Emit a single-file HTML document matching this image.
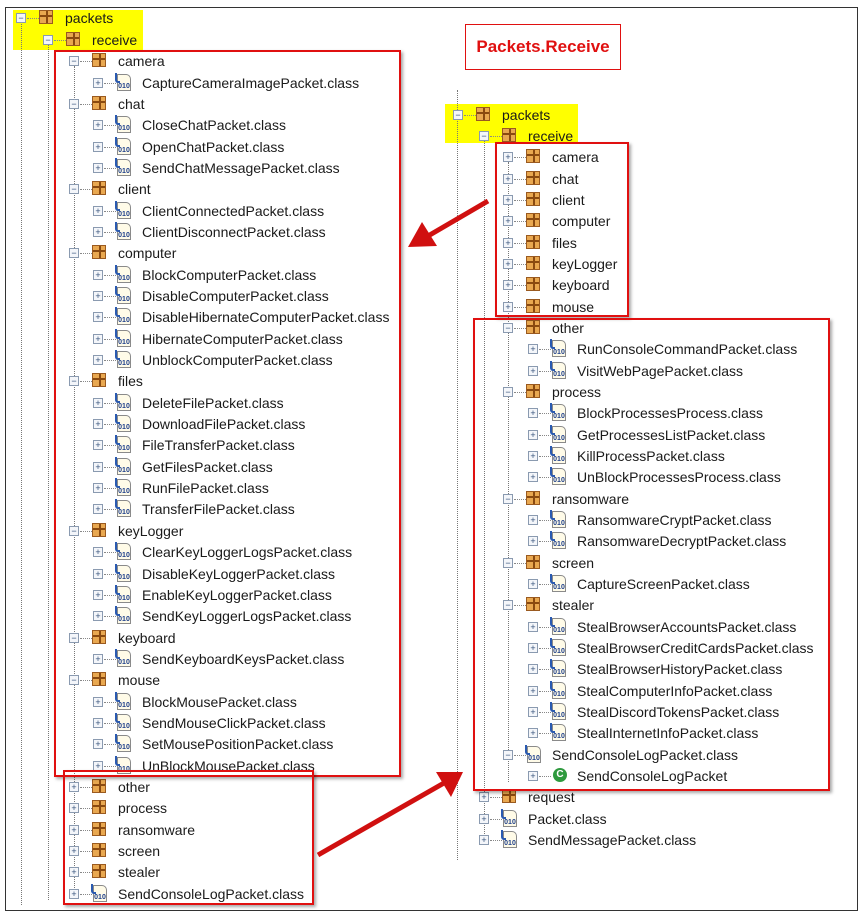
<!DOCTYPE html>
<html><head><meta charset="utf-8"><style>
body{margin:0;width:865px;height:916px;background:#fff;position:relative;overflow:hidden;font-family:"Liberation Sans",sans-serif;}
.frame{position:absolute;left:5px;top:7px;width:853px;height:904px;border:1.5px solid #333;box-sizing:border-box;}
.r{position:absolute;height:20px;font-size:14px;color:#1a1a1a;white-space:nowrap;}
.r .e{position:absolute;left:0;top:5px;width:8px;height:8px;border:1px solid #8a9ab0;background:#f4f6fa;font-size:9px;line-height:8px;text-align:center;color:#33507a;}
.r .e::after{content:"";position:absolute;left:10px;top:4px;width:12px;border-top:1px dotted #888;}
.r .pk{position:absolute;left:23px;top:2px;width:14px;height:14px;background:
linear-gradient(90deg,transparent 6px,#8a4a10 6px,#8a4a10 8px,transparent 8px),
linear-gradient(0deg,transparent 6px,#8a4a10 6px,#8a4a10 8px,transparent 8px),#e9a850;border:1px solid #9a5a20;box-sizing:border-box;}
.r .cl{position:absolute;left:24px;top:1px;width:14px;height:17px;border:1px solid #8a8a8a;border-radius:0 5px 0 0;background:#fffbe8;box-sizing:border-box;font-size:7px;font-weight:bold;color:#1d3e8a;line-height:7px;padding-top:8px;text-align:center;}
.r .cl::before{content:"";position:absolute;left:-3px;top:-2px;width:3px;height:8px;border-left:2px solid #2a5ab0;border-bottom:2px solid #2a5ab0;border-radius:0 0 0 3px;}
.r .c{position:absolute;left:25px;top:2px;width:14px;height:14px;border-radius:50%;background:#2e9a3e;color:#fff;font-size:10px;font-weight:bold;line-height:14px;text-align:center;}
.r .t{position:absolute;left:49px;top:0;line-height:20px;}
.hl{position:absolute;background:#ffff00;}
.box{position:absolute;border:2px solid #e01010;box-shadow:2px 2px 3px rgba(0,0,0,.35);}
.vd{position:absolute;border-left:1px dotted #777;}
</style></head><body>
<div class="frame"></div>
<div class="hl" style="left:13px;top:10px;width:130px;height:40px"></div>
<div class="hl" style="left:445px;top:104px;width:133px;height:39px"></div>
<div class="vd" style="left:21px;top:20px;height:885px"></div>
<div class="vd" style="left:48px;top:45px;height:855px"></div>
<div class="vd" style="left:74px;top:66px;height:830px"></div>
<div class="vd" style="left:457px;top:90px;height:770px"></div>
<div class="vd" style="left:484px;top:140px;height:700px"></div>
<div class="vd" style="left:508px;top:162px;height:620px"></div>
<div style="position:absolute;left:465px;top:24px;width:156px;height:46px;border:1.5px solid #e01010;box-sizing:border-box;color:#e01010;font-weight:bold;font-size:17px;line-height:43px;text-align:center">Packets.Receive</div>
<div style="position:absolute;left:476px;top:88px;width:140px;height:6px;overflow:hidden;font-size:12px;color:#555;line-height:0">&nbsp;</div>

<!-- LEFT TREE -->
<div class="r" style="left:16px;top:8px"><span class="e">−</span><span class="pk"></span><span class="t">packets</span></div>
<div class="r" style="left:43px;top:30px"><span class="e">−</span><span class="pk"></span><span class="t">receive</span></div>
<div class="r" style="left:69px;top:51px"><span class="e">−</span><span class="pk"></span><span class="t">camera</span></div>
<div class="r" style="left:93px;top:73px"><span class="e">+</span><span class="cl">010</span><span class="t">CaptureCameraImagePacket.class</span></div>
<div class="r" style="left:69px;top:94px"><span class="e">−</span><span class="pk"></span><span class="t">chat</span></div>
<div class="r" style="left:93px;top:115px"><span class="e">+</span><span class="cl">010</span><span class="t">CloseChatPacket.class</span></div>
<div class="r" style="left:93px;top:137px"><span class="e">+</span><span class="cl">010</span><span class="t">OpenChatPacket.class</span></div>
<div class="r" style="left:93px;top:158px"><span class="e">+</span><span class="cl">010</span><span class="t">SendChatMessagePacket.class</span></div>
<div class="r" style="left:69px;top:179px"><span class="e">−</span><span class="pk"></span><span class="t">client</span></div>
<div class="r" style="left:93px;top:201px"><span class="e">+</span><span class="cl">010</span><span class="t">ClientConnectedPacket.class</span></div>
<div class="r" style="left:93px;top:222px"><span class="e">+</span><span class="cl">010</span><span class="t">ClientDisconnectPacket.class</span></div>
<div class="r" style="left:69px;top:243px"><span class="e">−</span><span class="pk"></span><span class="t">computer</span></div>
<div class="r" style="left:93px;top:265px"><span class="e">+</span><span class="cl">010</span><span class="t">BlockComputerPacket.class</span></div>
<div class="r" style="left:93px;top:286px"><span class="e">+</span><span class="cl">010</span><span class="t">DisableComputerPacket.class</span></div>
<div class="r" style="left:93px;top:307px"><span class="e">+</span><span class="cl">010</span><span class="t">DisableHibernateComputerPacket.class</span></div>
<div class="r" style="left:93px;top:329px"><span class="e">+</span><span class="cl">010</span><span class="t">HibernateComputerPacket.class</span></div>
<div class="r" style="left:93px;top:350px"><span class="e">+</span><span class="cl">010</span><span class="t">UnblockComputerPacket.class</span></div>
<div class="r" style="left:69px;top:371px"><span class="e">−</span><span class="pk"></span><span class="t">files</span></div>
<div class="r" style="left:93px;top:393px"><span class="e">+</span><span class="cl">010</span><span class="t">DeleteFilePacket.class</span></div>
<div class="r" style="left:93px;top:414px"><span class="e">+</span><span class="cl">010</span><span class="t">DownloadFilePacket.class</span></div>
<div class="r" style="left:93px;top:435px"><span class="e">+</span><span class="cl">010</span><span class="t">FileTransferPacket.class</span></div>
<div class="r" style="left:93px;top:457px"><span class="e">+</span><span class="cl">010</span><span class="t">GetFilesPacket.class</span></div>
<div class="r" style="left:93px;top:478px"><span class="e">+</span><span class="cl">010</span><span class="t">RunFilePacket.class</span></div>
<div class="r" style="left:93px;top:499px"><span class="e">+</span><span class="cl">010</span><span class="t">TransferFilePacket.class</span></div>
<div class="r" style="left:69px;top:521px"><span class="e">−</span><span class="pk"></span><span class="t">keyLogger</span></div>
<div class="r" style="left:93px;top:542px"><span class="e">+</span><span class="cl">010</span><span class="t">ClearKeyLoggerLogsPacket.class</span></div>
<div class="r" style="left:93px;top:564px"><span class="e">+</span><span class="cl">010</span><span class="t">DisableKeyLoggerPacket.class</span></div>
<div class="r" style="left:93px;top:585px"><span class="e">+</span><span class="cl">010</span><span class="t">EnableKeyLoggerPacket.class</span></div>
<div class="r" style="left:93px;top:606px"><span class="e">+</span><span class="cl">010</span><span class="t">SendKeyLoggerLogsPacket.class</span></div>
<div class="r" style="left:69px;top:628px"><span class="e">−</span><span class="pk"></span><span class="t">keyboard</span></div>
<div class="r" style="left:93px;top:649px"><span class="e">+</span><span class="cl">010</span><span class="t">SendKeyboardKeysPacket.class</span></div>
<div class="r" style="left:69px;top:670px"><span class="e">−</span><span class="pk"></span><span class="t">mouse</span></div>
<div class="r" style="left:93px;top:692px"><span class="e">+</span><span class="cl">010</span><span class="t">BlockMousePacket.class</span></div>
<div class="r" style="left:93px;top:713px"><span class="e">+</span><span class="cl">010</span><span class="t">SendMouseClickPacket.class</span></div>
<div class="r" style="left:93px;top:734px"><span class="e">+</span><span class="cl">010</span><span class="t">SetMousePositionPacket.class</span></div>
<div class="r" style="left:93px;top:756px"><span class="e">+</span><span class="cl">010</span><span class="t">UnBlockMousePacket.class</span></div>
<div class="r" style="left:69px;top:777px"><span class="e">+</span><span class="pk"></span><span class="t">other</span></div>
<div class="r" style="left:69px;top:798px"><span class="e">+</span><span class="pk"></span><span class="t">process</span></div>
<div class="r" style="left:69px;top:820px"><span class="e">+</span><span class="pk"></span><span class="t">ransomware</span></div>
<div class="r" style="left:69px;top:841px"><span class="e">+</span><span class="pk"></span><span class="t">screen</span></div>
<div class="r" style="left:69px;top:862px"><span class="e">+</span><span class="pk"></span><span class="t">stealer</span></div>
<div class="r" style="left:69px;top:884px"><span class="e">+</span><span class="cl">010</span><span class="t">SendConsoleLogPacket.class</span></div>

<!-- RIGHT TREE -->
<div class="r" style="left:453px;top:105px"><span class="e">−</span><span class="pk"></span><span class="t">packets</span></div>
<div class="r" style="left:479px;top:126px"><span class="e">−</span><span class="pk"></span><span class="t">receive</span></div>
<div class="r" style="left:503px;top:147px"><span class="e">+</span><span class="pk"></span><span class="t">camera</span></div>
<div class="r" style="left:503px;top:169px"><span class="e">+</span><span class="pk"></span><span class="t">chat</span></div>
<div class="r" style="left:503px;top:190px"><span class="e">+</span><span class="pk"></span><span class="t">client</span></div>
<div class="r" style="left:503px;top:211px"><span class="e">+</span><span class="pk"></span><span class="t">computer</span></div>
<div class="r" style="left:503px;top:233px"><span class="e">+</span><span class="pk"></span><span class="t">files</span></div>
<div class="r" style="left:503px;top:254px"><span class="e">+</span><span class="pk"></span><span class="t">keyLogger</span></div>
<div class="r" style="left:503px;top:275px"><span class="e">+</span><span class="pk"></span><span class="t">keyboard</span></div>
<div class="r" style="left:503px;top:297px"><span class="e">+</span><span class="pk"></span><span class="t">mouse</span></div>
<div class="r" style="left:503px;top:318px"><span class="e">−</span><span class="pk"></span><span class="t">other</span></div>
<div class="r" style="left:528px;top:339px"><span class="e">+</span><span class="cl">010</span><span class="t">RunConsoleCommandPacket.class</span></div>
<div class="r" style="left:528px;top:361px"><span class="e">+</span><span class="cl">010</span><span class="t">VisitWebPagePacket.class</span></div>
<div class="r" style="left:503px;top:382px"><span class="e">−</span><span class="pk"></span><span class="t">process</span></div>
<div class="r" style="left:528px;top:403px"><span class="e">+</span><span class="cl">010</span><span class="t">BlockProcessesProcess.class</span></div>
<div class="r" style="left:528px;top:425px"><span class="e">+</span><span class="cl">010</span><span class="t">GetProcessesListPacket.class</span></div>
<div class="r" style="left:528px;top:446px"><span class="e">+</span><span class="cl">010</span><span class="t">KillProcessPacket.class</span></div>
<div class="r" style="left:528px;top:467px"><span class="e">+</span><span class="cl">010</span><span class="t">UnBlockProcessesProcess.class</span></div>
<div class="r" style="left:503px;top:489px"><span class="e">−</span><span class="pk"></span><span class="t">ransomware</span></div>
<div class="r" style="left:528px;top:510px"><span class="e">+</span><span class="cl">010</span><span class="t">RansomwareCryptPacket.class</span></div>
<div class="r" style="left:528px;top:531px"><span class="e">+</span><span class="cl">010</span><span class="t">RansomwareDecryptPacket.class</span></div>
<div class="r" style="left:503px;top:553px"><span class="e">−</span><span class="pk"></span><span class="t">screen</span></div>
<div class="r" style="left:528px;top:574px"><span class="e">+</span><span class="cl">010</span><span class="t">CaptureScreenPacket.class</span></div>
<div class="r" style="left:503px;top:595px"><span class="e">−</span><span class="pk"></span><span class="t">stealer</span></div>
<div class="r" style="left:528px;top:617px"><span class="e">+</span><span class="cl">010</span><span class="t">StealBrowserAccountsPacket.class</span></div>
<div class="r" style="left:528px;top:638px"><span class="e">+</span><span class="cl">010</span><span class="t">StealBrowserCreditCardsPacket.class</span></div>
<div class="r" style="left:528px;top:659px"><span class="e">+</span><span class="cl">010</span><span class="t">StealBrowserHistoryPacket.class</span></div>
<div class="r" style="left:528px;top:681px"><span class="e">+</span><span class="cl">010</span><span class="t">StealComputerInfoPacket.class</span></div>
<div class="r" style="left:528px;top:702px"><span class="e">+</span><span class="cl">010</span><span class="t">StealDiscordTokensPacket.class</span></div>
<div class="r" style="left:528px;top:723px"><span class="e">+</span><span class="cl">010</span><span class="t">StealInternetInfoPacket.class</span></div>
<div class="r" style="left:503px;top:745px"><span class="e">−</span><span class="cl">010</span><span class="t">SendConsoleLogPacket.class</span></div>
<div class="r" style="left:528px;top:766px"><span class="e">+</span><span class="c">C</span><span class="t">SendConsoleLogPacket</span></div>
<div class="r" style="left:479px;top:787px"><span class="e">+</span><span class="pk"></span><span class="t">request</span></div>
<div class="r" style="left:479px;top:809px"><span class="e">+</span><span class="cl">010</span><span class="t">Packet.class</span></div>
<div class="r" style="left:479px;top:830px"><span class="e">+</span><span class="cl">010</span><span class="t">SendMessagePacket.class</span></div>

<!-- red boxes -->
<div class="box" style="left:54px;top:50px;width:343px;height:723px"></div>
<div class="box" style="left:63px;top:770px;width:247px;height:131px"></div>
<div class="box" style="left:495px;top:142px;width:130px;height:171px"></div>
<div class="box" style="left:473px;top:318px;width:353px;height:469px"></div>

<svg width="865" height="916" style="position:absolute;left:0;top:0">
<line x1="488" y1="201" x2="428" y2="236" stroke="#d01010" stroke-width="5"/>
<polygon points="408,247 422,222 437,246" fill="#d01010"/>
<line x1="318" y1="855" x2="444" y2="783" stroke="#d01010" stroke-width="5"/>
<polygon points="463,772 451,797 436,772" fill="#d01010"/>
</svg>
</body></html>
